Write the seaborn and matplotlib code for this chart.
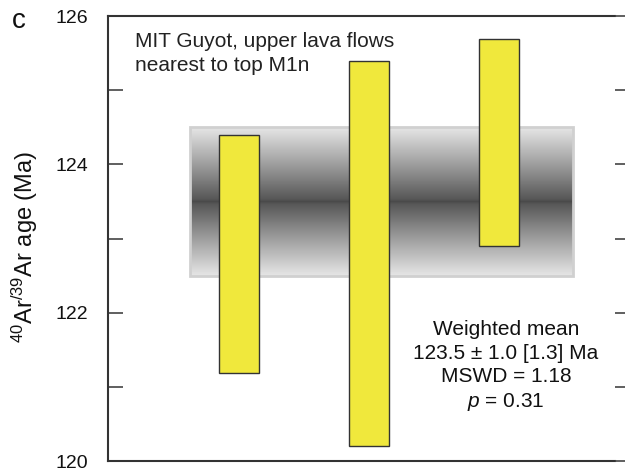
import numpy as np
import pandas as pd
import matplotlib
matplotlib.use("Agg")
import matplotlib.pyplot as plt
import seaborn as sns
from matplotlib.colors import LinearSegmentedColormap

samples = ["S1", "S2", "S3"]
age_low = [121.18, 120.20, 122.90]
age_high = [124.40, 125.40, 125.69]
mean_age = 123.5
mean_err = 1.0
y_ticks = [120, 122, 124, 126]

sns.set_theme(style="white")
plt.rcParams["font.family"] = ["Liberation Sans", "DejaVu Sans"]
plt.rcParams["mathtext.fontset"] = "custom"
plt.rcParams["mathtext.rm"] = "Liberation Sans"
plt.rcParams["mathtext.it"] = "Liberation Sans:italic"

fig = plt.figure(figsize=(6.25, 4.72), dpi=100)
ax = fig.add_axes([108/625, 11/472, 507/625, 445/472])

df = pd.DataFrame({"sample": samples,
                   "height": np.array(age_high) - np.array(age_low),
                   "bottom": age_low})

# weighted mean band with gradient
t = np.linspace(-1, 1, 301)
grad = np.abs(t)[:, None]
cmap = LinearSegmentedColormap.from_list(
    "g", [(0, "#4a4a4a"), (0.03, "#575757"), (0.5, "#9e9e9e"), (1, "#e6e6e6")])
bx0, bx1 = -0.377, 2.57
ax.imshow(grad, extent=[bx0, bx1, mean_age - mean_err, mean_age + mean_err],
          cmap=cmap, aspect="auto", origin="lower", zorder=1, vmin=0, vmax=1)
ax.add_patch(plt.Rectangle((bx0, mean_age - mean_err), bx1 - bx0, 2 * mean_err,
                           fill=False, edgecolor="#d0d0d0", lw=2, zorder=1.5))

sns.barplot(data=df, x="sample", y="height", bottom=df["bottom"].values,
            color="#f0e83c", saturation=1, width=0.31, edgecolor="#333333",
            linewidth=1, ax=ax, zorder=3)

ax.set_xlim(-1.008, 2.892)
ax.set_ylim(120, 126)
ax.set_yticks(y_ticks)
ax.set_yticks(np.arange(120, 127, 1), minor=True)
ax.set_xticks([])
ax.set_xlabel("")
ax.tick_params(axis="y", which="both", direction="in", length=11, width=1.2,
               color="#444444", left=True, labelsize=14, pad=14, labelcolor="#111111")
ax.tick_params(axis="y", which="minor", length=11)
for s in ["left", "top", "bottom"]:
    ax.spines[s].set_color("#333333")
    ax.spines[s].set_linewidth(1.5)
ax.spines["right"].set_visible(False)

# right side ticks outside
ax2 = ax.twinx()
ax2.set_ylim(120, 126)
ax2.set_yticks(np.arange(120, 127, 1))
ax2.tick_params(axis="y", direction="out", length=9, width=1.2, color="#444444",
                labelright=False)
for s in ax2.spines.values():
    s.set_visible(False)

ax.set_ylabel(r"$^{40}$Ar$^{/39}$Ar age (Ma)", fontsize=17, color="#111111")
ax.yaxis.set_label_coords(-0.135, 0.48)

ax.text(-0.8, 125.78, "MIT Guyot, upper lava flows\nnearest to top M1n",
        fontsize=15, va="top", ha="left", linespacing=1.28, color="#222222", zorder=5)
ax.text(2.054, 121.27, "Weighted mean\n123.5 \u00b1 1.0 [1.3] Ma\nMSWD = 1.18\n$p$ = 0.31",
        fontsize=15, va="center", ha="center", multialignment="center",
        linespacing=1.3, color="#111111", zorder=5)

fig.text(12/625, 1 - 28/472, "c", fontsize=20, va="baseline", ha="left", color="#111111")

fig.savefig("out.png", dpi=100)
